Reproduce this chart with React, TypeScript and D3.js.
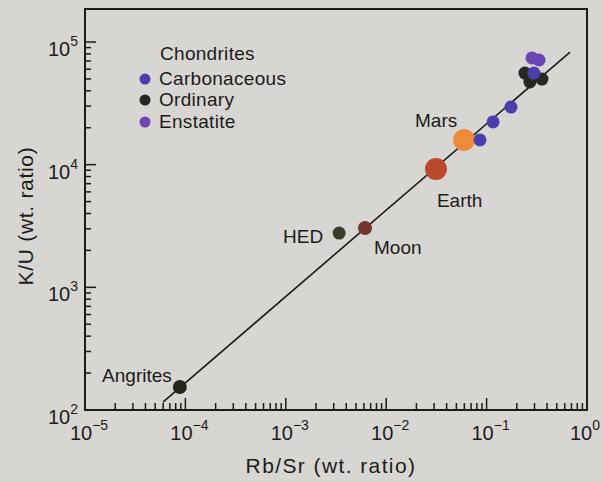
import React from 'react';
import * as d3 from 'd3';

const W = 603;
const H = 482;

// Axis decades (tick label exponents)
const xExps = [-5, -4, -3, -2, -1, 0];
const yExps = [2, 3, 4, 5];

// Chondrite groups: [Rb/Sr, K/U]
const carbonaceous: [number, number][] = [
  [0.0859, 15900],
  [0.116, 22300],
  [0.175, 29500],
  [0.296, 55800],
];
const ordinary: [number, number][] = [
  [0.241, 55800],
  [0.27, 47200],
  [0.356, 49900],
];
const enstatite: [number, number][] = [
  [0.283, 74100],
  [0.333, 71300],
];

// Named bodies: name, Rb/Sr, K/U
const bodyNames = ['Angrites', 'HED', 'Moon', 'Earth', 'Mars'];
const bodyRbSr = [8.8e-5, 0.0034, 0.00615, 0.0313, 0.0596];
const bodyKU = [154, 2770, 3050, 9230, 15900];

// Trend line endpoints
const trendRbSr = [5.98e-5, 0.678];
const trendKU = [116, 82800];

const FONT = "'Liberation Sans', Arial, Helvetica, sans-serif";
const INK = '#1c1b1a';

export default function App() {
  const left = 85, right = 587, bottom = 410, top = 9;
  const x = d3.scaleLog().domain([1e-5, 1]).range([left, right]);
  const y = d3.scaleLog().domain([1e2, 1e5]).range([bottom, 42]);

  const xTicks: { v: number; major: boolean }[] = [];
  for (let d = -5; d <= 0; d++) {
    for (let m = 1; m <= 9; m++) {
      const v = m * Math.pow(10, d);
      if (v >= 1e-5 && v <= 1 + 1e-9) xTicks.push({ v, major: m === 1 });
    }
  }
  const yTicks: { v: number; major: boolean }[] = [];
  for (let d = 2; d <= 5; d++) {
    for (let m = 1; m <= 9; m++) {
      const v = m * Math.pow(10, d);
      if (v <= 1e5 + 1) yTicks.push({ v, major: m === 1 });
    }
  }

  const line = d3
    .line<number>()
    .x((_, i) => x(trendRbSr[i]))
    .y((_, i) => y(trendKU[i]));

  const bodyStyle: Record<string, { fill: string; r: number }> = {
    Angrites: { fill: '#26251c', r: 7 },
    HED: { fill: '#3b3c2a', r: 6.5 },
    Moon: { fill: '#74362c', r: 7 },
    Earth: { fill: '#b9492a', r: 11 },
    Mars: { fill: '#ef8a3c', r: 11 },
  };
  const bodyLabel: Record<string, { dx: number; dy: number; anchor: string }> = {
    Angrites: { dx: -8, dy: -5, anchor: 'end' },
    HED: { dx: -16, dy: 10, anchor: 'end' },
    Moon: { dx: 9, dy: 26, anchor: 'start' },
    Earth: { dx: 1, dy: 38, anchor: 'start' },
    Mars: { dx: -49, dy: -13, anchor: 'start' },
  };

  const blue = '#4b3fae';
  const purple = '#6a47b4';
  const black = '#2a2624';

  return (
    <svg width={W} height={H} style={{ display: 'block', position: 'absolute', left: 0, top: 0 }}>
      <rect x={0} y={0} width={W} height={H} fill="#d8d6d3" />
      {/* frame */}
      <rect x={left} y={top} width={right - left} height={bottom - top} fill="none" stroke={INK} strokeWidth={2} />
      {/* x ticks */}
      {xTicks.map((t, i) => (
        <line key={'xt' + i} x1={x(t.v)} x2={x(t.v)} y1={bottom} y2={bottom - (t.major ? 12 : 7)} stroke={INK} strokeWidth={1.5} />
      ))}
      {/* y ticks */}
      {yTicks.map((t, i) => (
        <line key={'yt' + i} x1={left} x2={left + (t.major ? 11 : 6)} y1={y(t.v)} y2={y(t.v)} stroke={INK} strokeWidth={1.5} />
      ))}
      {/* x tick labels */}
      {xExps.map((e) => (
        <text key={'xl' + e} x={x(Math.pow(10, e)) + (e === 0 ? -2 : 4)} y={440} textAnchor="middle" fontFamily={FONT} fontSize={20} fill={INK}>
          10
          <tspan dy={-10} fontSize={14}>{e === 0 ? '0' : '\u2212' + Math.abs(e)}</tspan>
        </text>
      ))}
      {/* y tick labels */}
      {yExps.map((e) => (
        <text key={'yl' + e} x={78} y={y(Math.pow(10, e)) + 14} textAnchor="end" fontFamily={FONT} fontSize={20} fill={INK}>
          10
          <tspan dy={-10} fontSize={14}>{String(e)}</tspan>
        </text>
      ))}
      {/* axis titles */}
      <text x={331} y={473} textAnchor="middle" fontFamily={FONT} fontSize={21} letterSpacing={1.4} fill={INK}>
        Rb/Sr (wt. ratio)
      </text>
      <text transform={`translate(33,216) rotate(-90)`} textAnchor="middle" fontFamily={FONT} fontSize={21} letterSpacing={0.7} fill={INK}>
        K/U (wt. ratio)
      </text>
      {/* trend line */}
      <path d={line(trendRbSr) || ''} fill="none" stroke={INK} strokeWidth={1.6} />
      {/* bodies */}
      {bodyNames.map((n, i) => (
        <circle key={'b' + n} cx={x(bodyRbSr[i])} cy={y(bodyKU[i])} r={bodyStyle[n].r} fill={bodyStyle[n].fill} />
      ))}
      {bodyNames.map((n, i) => (
        <text
          key={'bl' + n}
          x={x(bodyRbSr[i]) + bodyLabel[n].dx}
          y={y(bodyKU[i]) + bodyLabel[n].dy}
          textAnchor={bodyLabel[n].anchor as any}
          fontFamily={FONT}
          fontSize={19}
          fill={INK}
        >
          {n}
        </text>
      ))}
      {/* chondrites */}
      {ordinary.map((p, i) => (
        <circle key={'o' + i} cx={x(p[0])} cy={y(p[1])} r={6.5} fill={black} />
      ))}
      {enstatite.map((p, i) => (
        <circle key={'e' + i} cx={x(p[0])} cy={y(p[1])} r={6.5} fill={purple} />
      ))}
      {carbonaceous.map((p, i) => (
        <circle key={'c' + i} cx={x(p[0])} cy={y(p[1])} r={6.5} fill={blue} />
      ))}
      {/* legend */}
      <text x={160} y={60} fontFamily={FONT} fontSize={19} letterSpacing={0.3} fill={INK}>Chondrites</text>
      {[
        { label: 'Carbonaceous', color: blue, yy: 85 },
        { label: 'Ordinary', color: black, yy: 106 },
        { label: 'Enstatite', color: purple, yy: 128 },
      ].map((l) => (
        <g key={l.label}>
          <circle cx={145} cy={l.yy - 6} r={5.5} fill={l.color} />
          <text x={159} y={l.yy} fontFamily={FONT} fontSize={19} letterSpacing={0.3} fill={INK}>{l.label}</text>
        </g>
      ))}
    </svg>
  );
}
